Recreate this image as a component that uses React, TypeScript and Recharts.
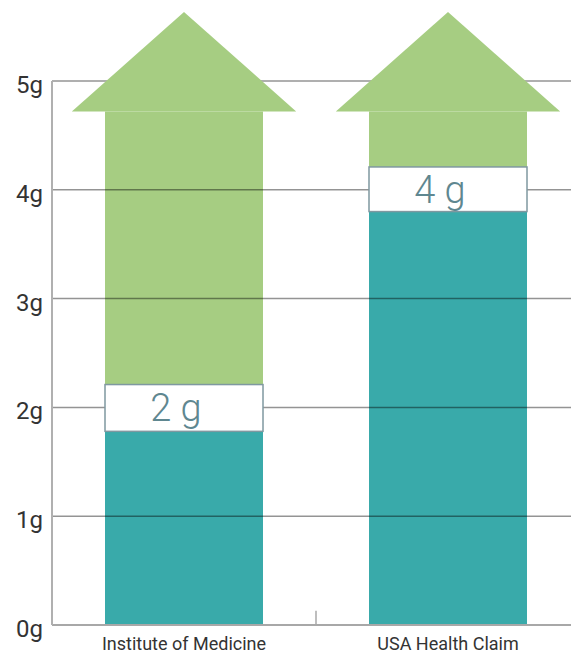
import React from 'react';
import { BarChart, Bar, XAxis, YAxis, ReferenceLine, LabelList } from 'recharts';

const categories = ['Institute of Medicine', 'USA Health Claim'];
const baseValues = [1.78, 3.8];
const boxTops = [2.21, 4.21];
const arrowBases = [4.72, 4.72];
const boxLabels = ['2 g', '4 g'];
const yTicks = [0, 1, 2, 3, 4, 5];
const gridValues = [1, 2, 3, 4, 5];

const data = categories.map((name, i) => ({
    name,
    base: baseValues[i],
    rest: +(arrowBases[i] - baseValues[i]).toFixed(2),
    box: [baseValues[i], boxTops[i]],
    head: [arrowBases[i], arrowBases[i]],
    label: boxLabels[i],
}));

const TEAL = '#39aaaa';
const GREEN = '#a6cd82';
const FONT = 'Roboto, "DejaVu Sans", sans-serif';

// arrow head sits on top of the green body, sized from the bar width
const ArrowHead = (props: any) => {
    const { x, y, width } = props;
    const over = width * 0.21;
    const tall = width * 0.63;
    const pts = `${x - over},${y} ${x + width / 2},${y - tall} ${x + width + over},${y}`;
    return <polygon points={pts} fill={GREEN} />;
};

const LabelBox = (props: any) => {
    const { x, y, width, height } = props;
    return <rect x={x} y={y} width={width} height={height} fill="#fff" stroke="#7f98a0" strokeWidth={1.5} />;
};

const CategoryTick = ({ x, y, payload }: any) => (
    <text x={x} y={y} dy={25} textAnchor="middle" fill="#333" fontSize={18} fontFamily={FONT}>
        {payload.value}
    </text>
);

const ValueTick = ({ x, y, payload }: any) => (
    <text x={x} y={y} dy={12} textAnchor="end" fill="#333" fontSize={24} fontFamily={FONT}>
        {`${payload.value}g`}
    </text>
);

export default function App() {
    return (
        <div style={{ position: 'absolute', left: 0, top: 0, width: 571, height: 654, overflow: 'hidden', background: '#fff' }}>
            <BarChart width={580} height={654} data={data} margin={{ top: 81, right: 0, bottom: 0, left: 0 }}>
                <XAxis
                    xAxisId="main"
                    dataKey="name"
                    height={29}
                    tickLine={false}
                    tickSize={0}
                    tickMargin={0}
                    axisLine={{ stroke: '#a8a8a8', strokeWidth: 2 }}
                    tick={<CategoryTick />}
                />
                <XAxis xAxisId="box" dataKey="name" height={0} hide />
                <XAxis xAxisId="head" dataKey="name" height={0} hide />
                <YAxis
                    domain={[0, 5]}
                    ticks={yTicks}
                    width={52}
                    tickLine={false}
                    tickSize={0}
                    tickMargin={9}
                    axisLine={{ stroke: '#b0b0b0', strokeWidth: 2 }}
                    tick={<ValueTick />}
                />
                <Bar xAxisId="main" dataKey="base" stackId="a" fill={TEAL} barSize={158} isAnimationActive={false} zIndex={300} />
                <Bar xAxisId="main" dataKey="rest" stackId="a" fill={GREEN} barSize={158} isAnimationActive={false} zIndex={300} />
                {gridValues.map((v) => (
                    <ReferenceLine key={v} xAxisId="main" y={v} stroke="rgba(0,0,0,0.42)" strokeWidth={1.5} zIndex={400} />
                ))}
                <ReferenceLine
                    xAxisId="main"
                    position="start"
                    segment={[{ x: categories[1], y: 0 }, { x: categories[1], y: 0.13 }]}
                    stroke="#a8a8a8"
                    strokeWidth={1.5}
                    zIndex={400}
                />
                <Bar xAxisId="box" dataKey="box" fill="#fff" barSize={158} shape={LabelBox} isAnimationActive={false} zIndex={450}>
                    <LabelList dataKey="label" position="center" fill="#5f8790" fontSize={38} fontFamily={FONT} fontWeight={300} dx={-8} />
                </Bar>
                <Bar xAxisId="head" dataKey="head" fill={GREEN} barSize={158} shape={ArrowHead} isAnimationActive={false} zIndex={450} />
            </BarChart>
        </div>
    );
}
